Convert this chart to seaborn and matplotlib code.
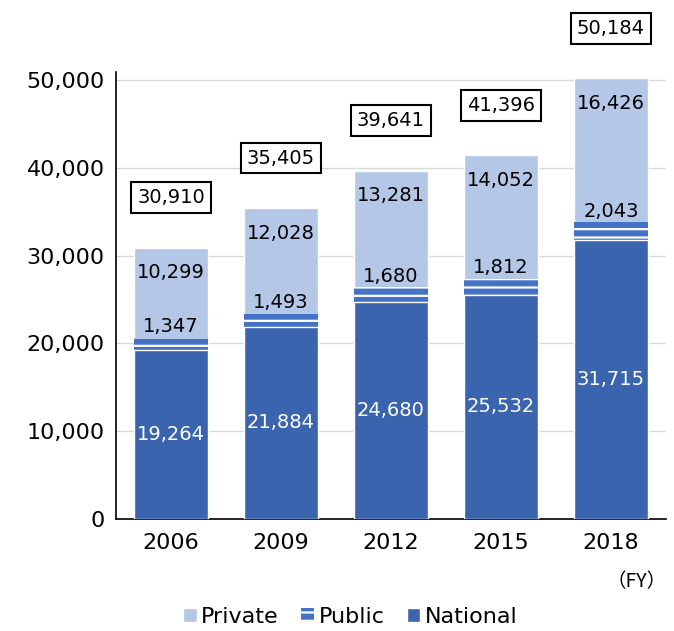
import numpy as np
import seaborn as sns
import matplotlib.pyplot as plt
from matplotlib.patches import Patch

years = ['2006', '2009', '2012', '2015', '2018']
national = [19264, 21884, 24680, 25532, 31715]
public = [1347, 1493, 1680, 1812, 2043]
private = [10299, 12028, 13281, 14052, 16426]
totals = [30910, 35405, 39641, 41396, 50184]
yticks = [0, 10000, 20000, 30000, 40000, 50000]

c_private = '#b4c7e7'
c_public = '#4472c4'
c_national = '#3a64ad'

sns.set_style('white')
plt.rcParams['font.family'] = ['DejaVu Sans', 'Noto Sans CJK JP']
plt.rcParams['hatch.linewidth'] = 1.6
plt.rcParams['text.color'] = 'black'
plt.rcParams['xtick.color'] = 'black'
plt.rcParams['ytick.color'] = 'black'

fig = plt.figure(figsize=(6.74, 6.31), dpi=100)
ax = fig.add_axes([0.172, 0.1775, 0.816, 0.7085])

nat = np.array(national)
pub_top = nat + np.array(public)
tot = pub_top + np.array(private)

# capas apiladas (de atrás hacia delante)
sns.barplot(x=years, y=tot, color=c_private, saturation=1, width=0.67, ax=ax, zorder=2, clip_on=False)
sns.barplot(x=years, y=pub_top, color=c_public, saturation=1, width=0.67, ax=ax, zorder=3,
            hatch='--', edgecolor='white', linewidth=0)
sns.barplot(x=years, y=nat, color=c_national, saturation=1, width=0.67, ax=ax, zorder=4)

ax.set_ylim(0, 50900)
ax.set_xlim(-0.5, 4.5)
ax.set_yticks(yticks)
ax.set_yticklabels([f'{v:,}' for v in yticks], fontsize=16)
ax.tick_params(axis='x', labelsize=16, pad=10, length=0)
ax.tick_params(axis='y', length=0, pad=8)
ax.grid(axis='y', color='#d9d9d9', linewidth=1, zorder=0)
ax.set_axisbelow(True)
ax.set_xlabel('')
ax.set_ylabel('')
for s in ['top', 'right']:
    ax.spines[s].set_visible(False)
for s in ['left', 'bottom']:
    ax.spines[s].set_color('black')
    ax.spines[s].set_linewidth(1.2)

for i in range(len(years)):
    ax.text(i, nat[i] / 2, f'{national[i]:,}', ha='center', va='center', color='white', fontsize=14, zorder=5)
    ax.annotate(f'{public[i]:,}', (i, pub_top[i]), xytext=(0, 8), textcoords='offset points',
                ha='center', va='center', fontsize=14, zorder=5)
    ax.annotate(f'{private[i]:,}', (i, tot[i]), xytext=(0, -18), textcoords='offset points',
                ha='center', va='center', fontsize=14, zorder=5, annotation_clip=False)
    ax.annotate(f'{totals[i]:,}', (i, tot[i]), xytext=(0, 36), textcoords='offset points',
                ha='center', va='center', fontsize=14, zorder=6, annotation_clip=False,
                bbox=dict(boxstyle='square,pad=0.3', fc='white', ec='black', lw=1.5))

fig.text(0.945, 0.078, '（FY）', ha='center', va='center', fontsize=14,
         family=['Noto Sans CJK JP', 'DejaVu Sans'])

handles = [Patch(facecolor=c_private, label='Private'),
           Patch(facecolor=c_public, edgecolor='white', hatch='--', linewidth=0, label='Public'),
           Patch(facecolor=c_national, label='National')]
fig.legend(handles=handles, loc='lower center', bbox_to_anchor=(0.52, -0.025), ncol=3, frameon=False,
           fontsize=16, handlelength=0.6, handleheight=0.6, handletextpad=0.2, columnspacing=1.0)

plt.savefig('out.png', dpi=100)
